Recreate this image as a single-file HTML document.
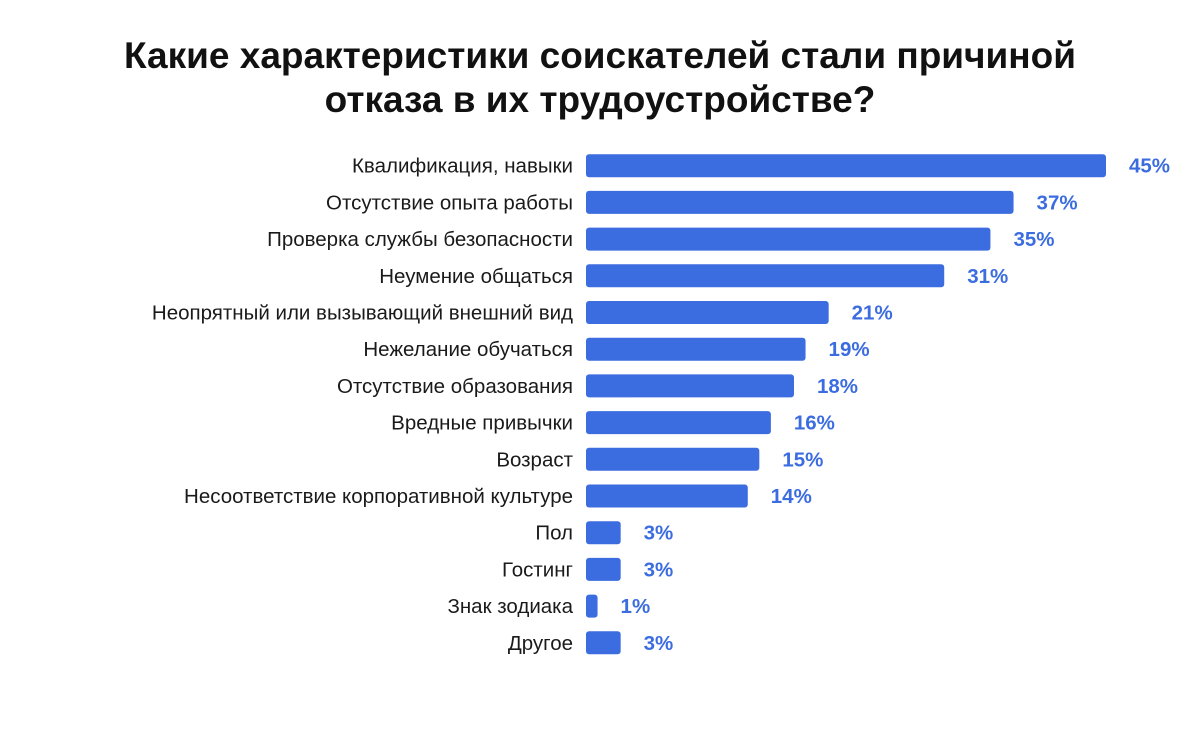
<!DOCTYPE html>
<html><head><meta charset="utf-8"><style>
body{margin:0;width:1200px;height:742px;background:#fff;font-family:"Liberation Sans",Arial,sans-serif;overflow:hidden}
h1{position:absolute;top:34px;left:0;width:1200px;margin:0;text-align:center;font-size:37px;line-height:44px;font-weight:bold;color:#111}
</style></head><body>
<h1>Какие характеристики соискателей стали причиной<br>отказа в их трудоустройстве?</h1>
<svg id="chart" width="1200" height="742" style="position:absolute;left:0;top:0"></svg>
<script>
const categories=["Квалификация, навыки","Отсутствие опыта работы","Проверка службы безопасности","Неумение общаться","Неопрятный или вызывающий внешний вид","Нежелание обучаться","Отсутствие образования","Вредные привычки","Возраст","Несоответствие корпоративной культуре","Пол","Гостинг","Знак зодиака","Другое"];
const values=[45,37,35,31,21,19,18,16,15,14,3,3,1,3];
const valueLabels=["45%","37%","35%","31%","21%","19%","18%","16%","15%","14%","3%","3%","1%","3%"];
const NS="http://www.w3.org/2000/svg";
const svg=document.getElementById('chart');
const x0=586, pxPer=520/45;
function xScale(v){return v*pxPer;}
function yScale(i){return 165.7+i*36.7;}
const barH=23;
categories.forEach((c,i)=>{
  const y=yScale(i);
  const t=document.createElementNS(NS,'text');
  
  
  t.setAttribute('x',573);t.setAttribute('y',y+7);t.setAttribute('text-anchor','end');
  t.setAttribute('font-size','20.5');t.setAttribute('fill','#1a1a1a');
  t.textContent=c;svg.appendChild(t);
  const r=document.createElementNS(NS,'rect');
  
  
  r.setAttribute('x',x0);r.setAttribute('y',y-barH/2);
  r.setAttribute('width',xScale(values[i]));r.setAttribute('height',barH);
  r.setAttribute('rx',3);r.setAttribute('fill','#3b6ce0');
  svg.appendChild(r);
  const v=document.createElementNS(NS,'text');
  
  
  v.setAttribute('x',x0+xScale(values[i])+23);v.setAttribute('y',y+7);
  v.setAttribute('font-size','20.5');v.setAttribute('font-weight','bold');v.setAttribute('fill','#3b6ce0');
  v.textContent=valueLabels[i];svg.appendChild(v);
});
</script>
</body></html>
